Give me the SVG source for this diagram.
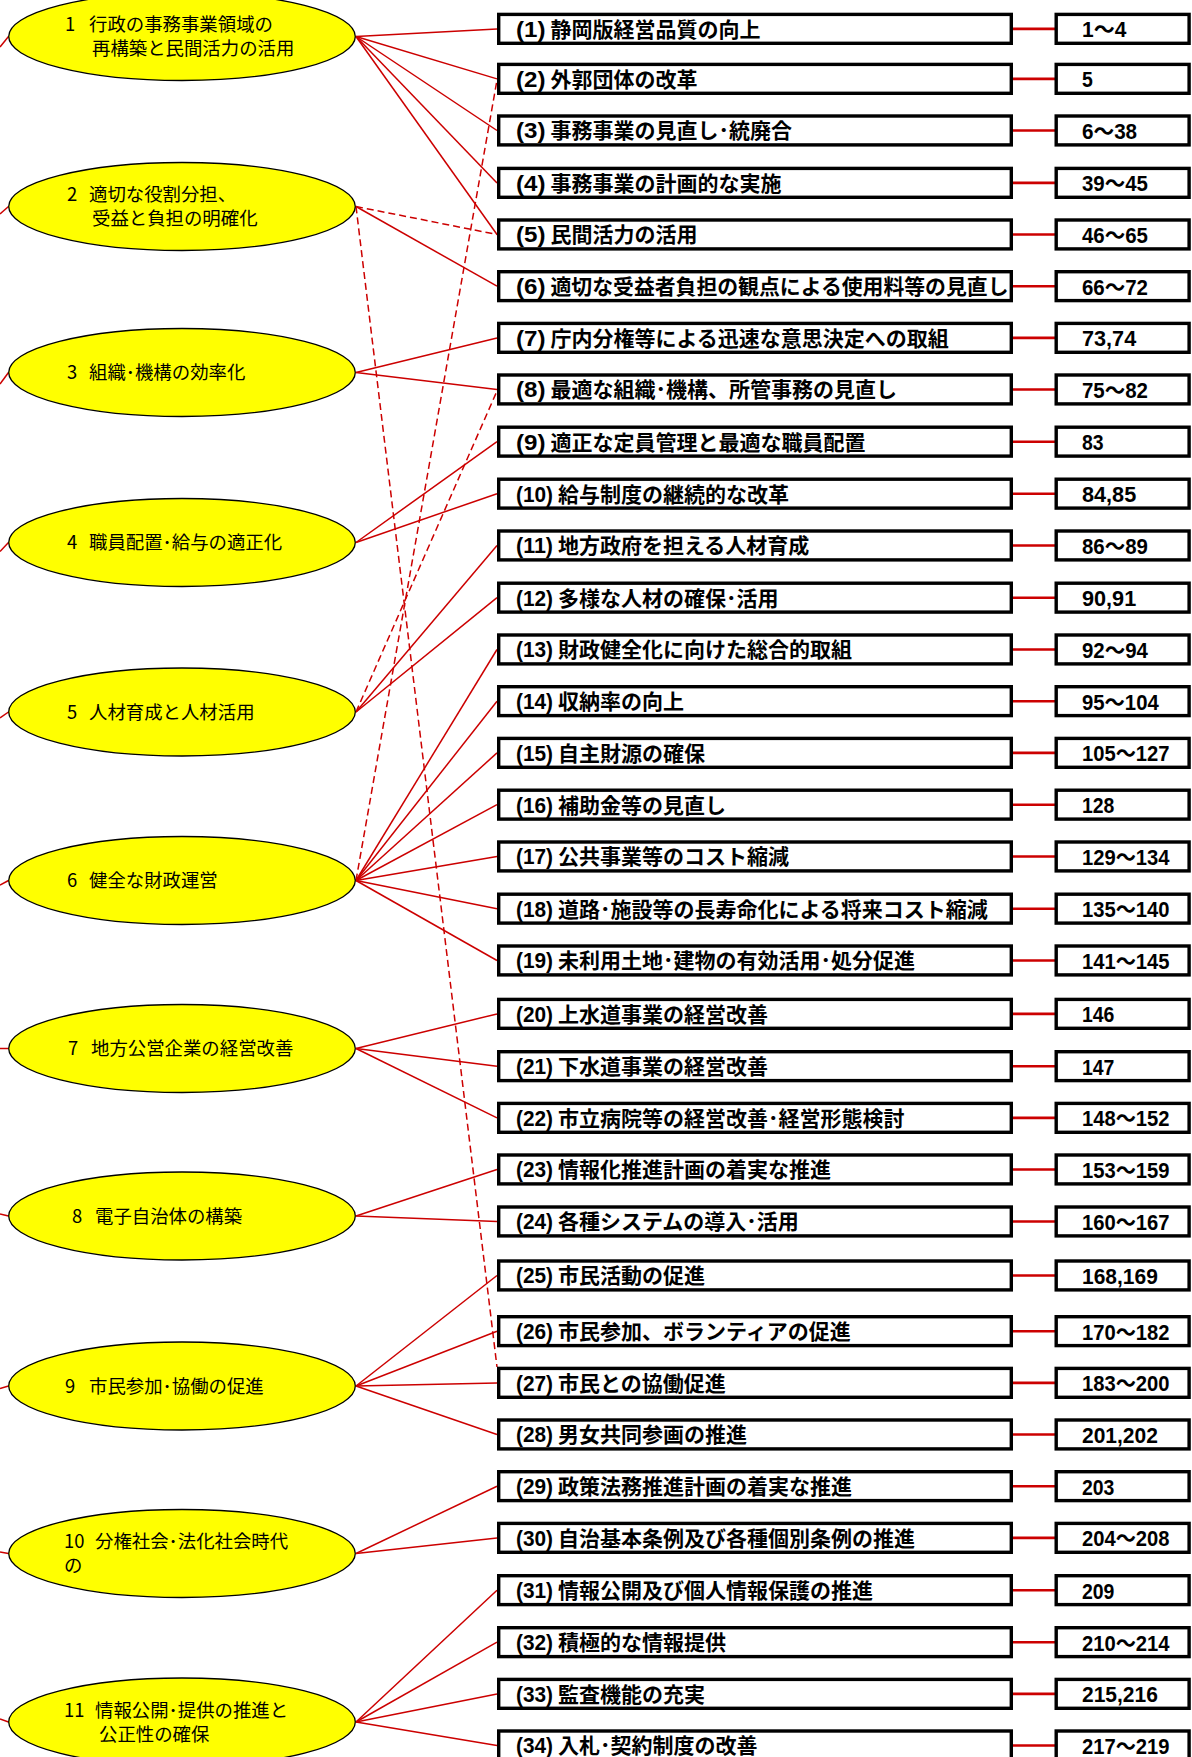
<svg xmlns="http://www.w3.org/2000/svg" width="1192" height="1757" viewBox="0 0 1192 1757">
<style>
.bg{fill:#fff}
.ell{fill:#ffff00;stroke:#000;stroke-width:1.3}
.et{font-family:"Noto Sans CJK JP","Noto Sans",sans-serif;font-size:18.4px;fill:#000}
.box{fill:#fff;stroke:#000;stroke-width:3.4}
.bt{font-family:"Noto Sans CJK JP","Noto Sans",sans-serif;font-size:21px;font-weight:bold;fill:#000}
.pf{font-family:"Liberation Sans","Noto Sans CJK JP",sans-serif;font-size:21.5px;font-weight:bold;fill:#000}
.nt{font-family:"Liberation Sans","Noto Sans CJK JP",sans-serif;font-size:21.5px;font-weight:bold;fill:#000}
.c{stroke:#cc0000;stroke-width:1.5;fill:none}
.d{stroke:#cc0000;stroke-width:1.5;fill:none;stroke-dasharray:7 4}
.h{stroke:#cc0000;stroke-width:2.6;fill:none}
</style>
<rect class="bg" x="0" y="0" width="1192" height="1757"/>
<g id="connectors">
<line class="c" x1="0" y1="47" x2="8.5" y2="36.5"/>
<line class="c" x1="0" y1="214" x2="8.5" y2="206.5"/>
<line class="c" x1="0" y1="384" x2="8.5" y2="372.5"/>
<line class="c" x1="0" y1="551.5" x2="8.5" y2="542.5"/>
<line class="c" x1="0" y1="718" x2="8.5" y2="712"/>
<line class="c" x1="0" y1="885" x2="8.5" y2="880.5"/>
<line class="c" x1="0" y1="1048.5" x2="8.5" y2="1048.5"/>
<line class="c" x1="0" y1="1214" x2="8.5" y2="1216"/>
<line class="c" x1="0" y1="1388.5" x2="8.5" y2="1386"/>
<line class="c" x1="0" y1="1552" x2="8.5" y2="1553.5"/>
<line class="c" x1="0" y1="1719" x2="8.5" y2="1722"/>
<line class="c" x1="356" y1="36.5" x2="497" y2="28.9"/>
<line class="c" x1="356" y1="36.5" x2="497" y2="78.9"/>
<line class="c" x1="356" y1="36.5" x2="497" y2="130.5"/>
<line class="c" x1="356" y1="36.5" x2="497" y2="182.9"/>
<line class="c" x1="356" y1="36.5" x2="497" y2="234.5"/>
<line class="c" x1="356" y1="206.5" x2="497" y2="286.2"/>
<line class="d" x1="356" y1="206.5" x2="497" y2="234.5"/>
<line class="d" x1="356" y1="206.5" x2="497" y2="1367"/>
<line class="c" x1="356" y1="372.5" x2="497" y2="337.9"/>
<line class="c" x1="356" y1="372.5" x2="497" y2="389.5"/>
<line class="c" x1="356" y1="542.5" x2="497" y2="441.7"/>
<line class="c" x1="356" y1="542.5" x2="497" y2="493.7"/>
<line class="c" x1="356" y1="712" x2="497" y2="545.5"/>
<line class="c" x1="356" y1="712" x2="497" y2="597.7"/>
<line class="d" x1="356" y1="712" x2="497" y2="391"/>
<line class="d" x1="356" y1="880.5" x2="497" y2="80"/>
<line class="c" x1="356" y1="880.5" x2="497" y2="649.5"/>
<line class="c" x1="356" y1="880.5" x2="497" y2="701.2"/>
<line class="c" x1="356" y1="880.5" x2="497" y2="752.9"/>
<line class="c" x1="356" y1="880.5" x2="497" y2="804.7"/>
<line class="c" x1="356" y1="880.5" x2="497" y2="856.5"/>
<line class="c" x1="356" y1="880.5" x2="497" y2="908.7"/>
<line class="c" x1="356" y1="880.5" x2="497" y2="960.5"/>
<line class="c" x1="356" y1="1048.5" x2="497" y2="1013.9"/>
<line class="c" x1="356" y1="1048.5" x2="497" y2="1066.2"/>
<line class="c" x1="356" y1="1048.5" x2="497" y2="1117.9"/>
<line class="c" x1="356" y1="1216" x2="497" y2="1169.5"/>
<line class="c" x1="356" y1="1216" x2="497" y2="1221.5"/>
<line class="c" x1="356" y1="1386" x2="497" y2="1275.5"/>
<line class="c" x1="356" y1="1386" x2="497" y2="1331.2"/>
<line class="c" x1="356" y1="1386" x2="497" y2="1382.9"/>
<line class="c" x1="356" y1="1386" x2="497" y2="1434.5"/>
<line class="c" x1="356" y1="1553.5" x2="497" y2="1486.2"/>
<line class="c" x1="356" y1="1553.5" x2="497" y2="1537.9"/>
<line class="c" x1="356" y1="1722" x2="497" y2="1590.2"/>
<line class="c" x1="356" y1="1722" x2="497" y2="1642.2"/>
<line class="c" x1="356" y1="1722" x2="497" y2="1693.9"/>
<line class="c" x1="356" y1="1722" x2="497" y2="1745.5"/>
<line class="h" x1="1013" y1="28.9" x2="1055" y2="28.9"/>
<line class="h" x1="1013" y1="78.9" x2="1055" y2="78.9"/>
<line class="h" x1="1013" y1="130.5" x2="1055" y2="130.5"/>
<line class="h" x1="1013" y1="182.9" x2="1055" y2="182.9"/>
<line class="h" x1="1013" y1="234.5" x2="1055" y2="234.5"/>
<line class="h" x1="1013" y1="286.2" x2="1055" y2="286.2"/>
<line class="h" x1="1013" y1="337.9" x2="1055" y2="337.9"/>
<line class="h" x1="1013" y1="389.5" x2="1055" y2="389.5"/>
<line class="h" x1="1013" y1="441.7" x2="1055" y2="441.7"/>
<line class="h" x1="1013" y1="493.7" x2="1055" y2="493.7"/>
<line class="h" x1="1013" y1="545.5" x2="1055" y2="545.5"/>
<line class="h" x1="1013" y1="597.7" x2="1055" y2="597.7"/>
<line class="h" x1="1013" y1="649.5" x2="1055" y2="649.5"/>
<line class="h" x1="1013" y1="701.2" x2="1055" y2="701.2"/>
<line class="h" x1="1013" y1="752.9" x2="1055" y2="752.9"/>
<line class="h" x1="1013" y1="804.7" x2="1055" y2="804.7"/>
<line class="h" x1="1013" y1="856.5" x2="1055" y2="856.5"/>
<line class="h" x1="1013" y1="908.7" x2="1055" y2="908.7"/>
<line class="h" x1="1013" y1="960.5" x2="1055" y2="960.5"/>
<line class="h" x1="1013" y1="1013.9" x2="1055" y2="1013.9"/>
<line class="h" x1="1013" y1="1066.2" x2="1055" y2="1066.2"/>
<line class="h" x1="1013" y1="1117.9" x2="1055" y2="1117.9"/>
<line class="h" x1="1013" y1="1169.5" x2="1055" y2="1169.5"/>
<line class="h" x1="1013" y1="1221.5" x2="1055" y2="1221.5"/>
<line class="h" x1="1013" y1="1275.5" x2="1055" y2="1275.5"/>
<line class="h" x1="1013" y1="1331.2" x2="1055" y2="1331.2"/>
<line class="h" x1="1013" y1="1382.9" x2="1055" y2="1382.9"/>
<line class="h" x1="1013" y1="1434.5" x2="1055" y2="1434.5"/>
<line class="h" x1="1013" y1="1486.2" x2="1055" y2="1486.2"/>
<line class="h" x1="1013" y1="1537.9" x2="1055" y2="1537.9"/>
<line class="h" x1="1013" y1="1590.2" x2="1055" y2="1590.2"/>
<line class="h" x1="1013" y1="1642.2" x2="1055" y2="1642.2"/>
<line class="h" x1="1013" y1="1693.9" x2="1055" y2="1693.9"/>
<line class="h" x1="1013" y1="1745.5" x2="1055" y2="1745.5"/>
</g>
<g id="goal-1"><ellipse class="ell" cx="182" cy="36.5" rx="173.3" ry="44"/><text class="et" y="31.1"><tspan x="65">1</tspan><tspan x="89">行政の事務事業領域の</tspan></text><text class="et" x="92" y="55.1">再構築と民間活力の活用</text></g>
<g id="goal-2"><ellipse class="ell" cx="182" cy="206.5" rx="173.3" ry="44"/><text class="et" y="201.1"><tspan x="67">2</tspan><tspan x="89">適切な役割分担、</tspan></text><text class="et" x="92" y="225.1">受益と負担の明確化</text></g>
<g id="goal-3"><ellipse class="ell" cx="182" cy="372.5" rx="173.3" ry="44"/><text class="et" y="379.1"><tspan x="67">3</tspan><tspan x="89">組織･機構の効率化</tspan></text></g>
<g id="goal-4"><ellipse class="ell" cx="182" cy="542.5" rx="173.3" ry="44"/><text class="et" y="549.1"><tspan x="67">4</tspan><tspan x="89">職員配置･給与の適正化</tspan></text></g>
<g id="goal-5"><ellipse class="ell" cx="182" cy="712" rx="173.3" ry="44"/><text class="et" y="718.6"><tspan x="67">5</tspan><tspan x="89">人材育成と人材活用</tspan></text></g>
<g id="goal-6"><ellipse class="ell" cx="182" cy="880.5" rx="173.3" ry="44"/><text class="et" y="887.1"><tspan x="67">6</tspan><tspan x="89">健全な財政運営</tspan></text></g>
<g id="goal-7"><ellipse class="ell" cx="182" cy="1048.5" rx="173.3" ry="44"/><text class="et" y="1055.1"><tspan x="68">7</tspan><tspan x="91">地方公営企業の経営改善</tspan></text></g>
<g id="goal-8"><ellipse class="ell" cx="182" cy="1216" rx="173.3" ry="44"/><text class="et" y="1222.6"><tspan x="72">8</tspan><tspan x="95">電子自治体の構築</tspan></text></g>
<g id="goal-9"><ellipse class="ell" cx="182" cy="1386" rx="173.3" ry="44"/><text class="et" y="1392.6"><tspan x="65">9</tspan><tspan x="89">市民参加･協働の促進</tspan></text></g>
<g id="goal-10"><ellipse class="ell" cx="182" cy="1553.5" rx="173.3" ry="44"/><text class="et" y="1548.1"><tspan x="64">10</tspan><tspan x="95">分権社会･法化社会時代</tspan></text><text class="et" x="64" y="1572.1">の</text></g>
<g id="goal-11"><ellipse class="ell" cx="182" cy="1722" rx="173.3" ry="44"/><text class="et" y="1716.6"><tspan x="64">11</tspan><tspan x="95">情報公開･提供の推進と</tspan></text><text class="et" x="99" y="1740.6">公正性の確保</text></g>
<g id="row-1" transform="translate(0,12.7)"><g id="item-1"><rect class="box" x="498.7" y="1.7" width="512.6" height="28.9"/><text class="pf" x="516" y="24" textLength="29.5" lengthAdjust="spacingAndGlyphs">(1)</text><text class="bt" x="550.5" y="24">静岡版経営品質の向上</text></g><g id="num-1"><rect class="box" x="1056.2" y="1.7" width="132.9" height="28.9"/><text class="nt" x="1082" y="24.5" textLength="44.3" lengthAdjust="spacingAndGlyphs">1～4</text></g></g>
<g id="row-2" transform="translate(0,62.7)"><g id="item-2"><rect class="box" x="498.7" y="1.7" width="512.6" height="28.9"/><text class="pf" x="516" y="24" textLength="29.5" lengthAdjust="spacingAndGlyphs">(2)</text><text class="bt" x="550.5" y="24">外郭団体の改革</text></g><g id="num-2"><rect class="box" x="1056.2" y="1.7" width="132.9" height="28.9"/><text class="nt" x="1082" y="24.5" textLength="10.8" lengthAdjust="spacingAndGlyphs">5</text></g></g>
<g id="row-3" transform="translate(0,114.3)"><g id="item-3"><rect class="box" x="498.7" y="1.7" width="512.6" height="28.9"/><text class="pf" x="516" y="24" textLength="29.5" lengthAdjust="spacingAndGlyphs">(3)</text><text class="bt" x="550.5" y="24">事務事業の見直し･統廃合</text></g><g id="num-3"><rect class="box" x="1056.2" y="1.7" width="132.9" height="28.9"/><text class="nt" x="1082" y="24.5" textLength="55.1" lengthAdjust="spacingAndGlyphs">6～38</text></g></g>
<g id="row-4" transform="translate(0,166.7)"><g id="item-4"><rect class="box" x="498.7" y="1.7" width="512.6" height="28.9"/><text class="pf" x="516" y="24" textLength="29.5" lengthAdjust="spacingAndGlyphs">(4)</text><text class="bt" x="550.5" y="24">事務事業の計画的な実施</text></g><g id="num-4"><rect class="box" x="1056.2" y="1.7" width="132.9" height="28.9"/><text class="nt" x="1082" y="24.5" textLength="65.9" lengthAdjust="spacingAndGlyphs">39～45</text></g></g>
<g id="row-5" transform="translate(0,218.3)"><g id="item-5"><rect class="box" x="498.7" y="1.7" width="512.6" height="28.9"/><text class="pf" x="516" y="24" textLength="29.5" lengthAdjust="spacingAndGlyphs">(5)</text><text class="bt" x="550.5" y="24">民間活力の活用</text></g><g id="num-5"><rect class="box" x="1056.2" y="1.7" width="132.9" height="28.9"/><text class="nt" x="1082" y="24.5" textLength="65.9" lengthAdjust="spacingAndGlyphs">46～65</text></g></g>
<g id="row-6" transform="translate(0,270)"><g id="item-6"><rect class="box" x="498.7" y="1.7" width="512.6" height="28.9"/><text class="pf" x="516" y="24" textLength="29.5" lengthAdjust="spacingAndGlyphs">(6)</text><text class="bt" x="550.5" y="24" textLength="458" lengthAdjust="spacingAndGlyphs">適切な受益者負担の観点による使用料等の見直し</text></g><g id="num-6"><rect class="box" x="1056.2" y="1.7" width="132.9" height="28.9"/><text class="nt" x="1082" y="24.5" textLength="65.9" lengthAdjust="spacingAndGlyphs">66～72</text></g></g>
<g id="row-7" transform="translate(0,321.7)"><g id="item-7"><rect class="box" x="498.7" y="1.7" width="512.6" height="28.9"/><text class="pf" x="516" y="24" textLength="29.5" lengthAdjust="spacingAndGlyphs">(7)</text><text class="bt" x="550.5" y="24">庁内分権等による迅速な意思決定への取組</text></g><g id="num-7"><rect class="box" x="1056.2" y="1.7" width="132.9" height="28.9"/><text class="nt" x="1082" y="24.5" textLength="54.2" lengthAdjust="spacingAndGlyphs">73,74</text></g></g>
<g id="row-8" transform="translate(0,373.3)"><g id="item-8"><rect class="box" x="498.7" y="1.7" width="512.6" height="28.9"/><text class="pf" x="516" y="24" textLength="29.5" lengthAdjust="spacingAndGlyphs">(8)</text><text class="bt" x="550.5" y="24">最適な組織･機構、所管事務の見直し</text></g><g id="num-8"><rect class="box" x="1056.2" y="1.7" width="132.9" height="28.9"/><text class="nt" x="1082" y="24.5" textLength="65.9" lengthAdjust="spacingAndGlyphs">75～82</text></g></g>
<g id="row-9" transform="translate(0,425.5)"><g id="item-9"><rect class="box" x="498.7" y="1.7" width="512.6" height="28.9"/><text class="pf" x="516" y="24" textLength="29.5" lengthAdjust="spacingAndGlyphs">(9)</text><text class="bt" x="550.5" y="24">適正な定員管理と最適な職員配置</text></g><g id="num-9"><rect class="box" x="1056.2" y="1.7" width="132.9" height="28.9"/><text class="nt" x="1082" y="24.5" textLength="21.6" lengthAdjust="spacingAndGlyphs">83</text></g></g>
<g id="row-10" transform="translate(0,477.5)"><g id="item-10"><rect class="box" x="498.7" y="1.7" width="512.6" height="28.9"/><text class="pf" x="516" y="24" textLength="37" lengthAdjust="spacingAndGlyphs">(10)</text><text class="bt" x="558" y="24">給与制度の継続的な改革</text></g><g id="num-10"><rect class="box" x="1056.2" y="1.7" width="132.9" height="28.9"/><text class="nt" x="1082" y="24.5" textLength="54.2" lengthAdjust="spacingAndGlyphs">84,85</text></g></g>
<g id="row-11" transform="translate(0,529.3)"><g id="item-11"><rect class="box" x="498.7" y="1.7" width="512.6" height="28.9"/><text class="pf" x="516" y="24" textLength="37" lengthAdjust="spacingAndGlyphs">(11)</text><text class="bt" x="558" y="24">地方政府を担える人材育成</text></g><g id="num-11"><rect class="box" x="1056.2" y="1.7" width="132.9" height="28.9"/><text class="nt" x="1082" y="24.5" textLength="65.9" lengthAdjust="spacingAndGlyphs">86～89</text></g></g>
<g id="row-12" transform="translate(0,581.5)"><g id="item-12"><rect class="box" x="498.7" y="1.7" width="512.6" height="28.9"/><text class="pf" x="516" y="24" textLength="37" lengthAdjust="spacingAndGlyphs">(12)</text><text class="bt" x="558" y="24">多様な人材の確保･活用</text></g><g id="num-12"><rect class="box" x="1056.2" y="1.7" width="132.9" height="28.9"/><text class="nt" x="1082" y="24.5" textLength="54.2" lengthAdjust="spacingAndGlyphs">90,91</text></g></g>
<g id="row-13" transform="translate(0,633.3)"><g id="item-13"><rect class="box" x="498.7" y="1.7" width="512.6" height="28.9"/><text class="pf" x="516" y="24" textLength="37" lengthAdjust="spacingAndGlyphs">(13)</text><text class="bt" x="558" y="24">財政健全化に向けた総合的取組</text></g><g id="num-13"><rect class="box" x="1056.2" y="1.7" width="132.9" height="28.9"/><text class="nt" x="1082" y="24.5" textLength="65.9" lengthAdjust="spacingAndGlyphs">92～94</text></g></g>
<g id="row-14" transform="translate(0,685)"><g id="item-14"><rect class="box" x="498.7" y="1.7" width="512.6" height="28.9"/><text class="pf" x="516" y="24" textLength="37" lengthAdjust="spacingAndGlyphs">(14)</text><text class="bt" x="558" y="24">収納率の向上</text></g><g id="num-14"><rect class="box" x="1056.2" y="1.7" width="132.9" height="28.9"/><text class="nt" x="1082" y="24.5" textLength="76.7" lengthAdjust="spacingAndGlyphs">95～104</text></g></g>
<g id="row-15" transform="translate(0,736.7)"><g id="item-15"><rect class="box" x="498.7" y="1.7" width="512.6" height="28.9"/><text class="pf" x="516" y="24" textLength="37" lengthAdjust="spacingAndGlyphs">(15)</text><text class="bt" x="558" y="24">自主財源の確保</text></g><g id="num-15"><rect class="box" x="1056.2" y="1.7" width="132.9" height="28.9"/><text class="nt" x="1082" y="24.5" textLength="87.5" lengthAdjust="spacingAndGlyphs">105～127</text></g></g>
<g id="row-16" transform="translate(0,788.5)"><g id="item-16"><rect class="box" x="498.7" y="1.7" width="512.6" height="28.9"/><text class="pf" x="516" y="24" textLength="37" lengthAdjust="spacingAndGlyphs">(16)</text><text class="bt" x="558" y="24">補助金等の見直し</text></g><g id="num-16"><rect class="box" x="1056.2" y="1.7" width="132.9" height="28.9"/><text class="nt" x="1082" y="24.5" textLength="32.4" lengthAdjust="spacingAndGlyphs">128</text></g></g>
<g id="row-17" transform="translate(0,840.3)"><g id="item-17"><rect class="box" x="498.7" y="1.7" width="512.6" height="28.9"/><text class="pf" x="516" y="24" textLength="37" lengthAdjust="spacingAndGlyphs">(17)</text><text class="bt" x="558" y="24">公共事業等のコスト縮減</text></g><g id="num-17"><rect class="box" x="1056.2" y="1.7" width="132.9" height="28.9"/><text class="nt" x="1082" y="24.5" textLength="87.5" lengthAdjust="spacingAndGlyphs">129～134</text></g></g>
<g id="row-18" transform="translate(0,892.5)"><g id="item-18"><rect class="box" x="498.7" y="1.7" width="512.6" height="28.9"/><text class="pf" x="516" y="24" textLength="37" lengthAdjust="spacingAndGlyphs">(18)</text><text class="bt" x="558" y="24">道路･施設等の長寿命化による将来コスト縮減</text></g><g id="num-18"><rect class="box" x="1056.2" y="1.7" width="132.9" height="28.9"/><text class="nt" x="1082" y="24.5" textLength="87.5" lengthAdjust="spacingAndGlyphs">135～140</text></g></g>
<g id="row-19" transform="translate(0,944.3)"><g id="item-19"><rect class="box" x="498.7" y="1.7" width="512.6" height="28.9"/><text class="pf" x="516" y="24" textLength="37" lengthAdjust="spacingAndGlyphs">(19)</text><text class="bt" x="558" y="24">未利用土地･建物の有効活用･処分促進</text></g><g id="num-19"><rect class="box" x="1056.2" y="1.7" width="132.9" height="28.9"/><text class="nt" x="1082" y="24.5" textLength="87.5" lengthAdjust="spacingAndGlyphs">141～145</text></g></g>
<g id="row-20" transform="translate(0,997.7)"><g id="item-20"><rect class="box" x="498.7" y="1.7" width="512.6" height="28.9"/><text class="pf" x="516" y="24" textLength="37" lengthAdjust="spacingAndGlyphs">(20)</text><text class="bt" x="558" y="24">上水道事業の経営改善</text></g><g id="num-20"><rect class="box" x="1056.2" y="1.7" width="132.9" height="28.9"/><text class="nt" x="1082" y="24.5" textLength="32.4" lengthAdjust="spacingAndGlyphs">146</text></g></g>
<g id="row-21" transform="translate(0,1050)"><g id="item-21"><rect class="box" x="498.7" y="1.7" width="512.6" height="28.9"/><text class="pf" x="516" y="24" textLength="37" lengthAdjust="spacingAndGlyphs">(21)</text><text class="bt" x="558" y="24">下水道事業の経営改善</text></g><g id="num-21"><rect class="box" x="1056.2" y="1.7" width="132.9" height="28.9"/><text class="nt" x="1082" y="24.5" textLength="32.4" lengthAdjust="spacingAndGlyphs">147</text></g></g>
<g id="row-22" transform="translate(0,1101.7)"><g id="item-22"><rect class="box" x="498.7" y="1.7" width="512.6" height="28.9"/><text class="pf" x="516" y="24" textLength="37" lengthAdjust="spacingAndGlyphs">(22)</text><text class="bt" x="558" y="24">市立病院等の経営改善･経営形態検討</text></g><g id="num-22"><rect class="box" x="1056.2" y="1.7" width="132.9" height="28.9"/><text class="nt" x="1082" y="24.5" textLength="87.5" lengthAdjust="spacingAndGlyphs">148～152</text></g></g>
<g id="row-23" transform="translate(0,1153.3)"><g id="item-23"><rect class="box" x="498.7" y="1.7" width="512.6" height="28.9"/><text class="pf" x="516" y="24" textLength="37" lengthAdjust="spacingAndGlyphs">(23)</text><text class="bt" x="558" y="24">情報化推進計画の着実な推進</text></g><g id="num-23"><rect class="box" x="1056.2" y="1.7" width="132.9" height="28.9"/><text class="nt" x="1082" y="24.5" textLength="87.5" lengthAdjust="spacingAndGlyphs">153～159</text></g></g>
<g id="row-24" transform="translate(0,1205.3)"><g id="item-24"><rect class="box" x="498.7" y="1.7" width="512.6" height="28.9"/><text class="pf" x="516" y="24" textLength="37" lengthAdjust="spacingAndGlyphs">(24)</text><text class="bt" x="558" y="24">各種システムの導入･活用</text></g><g id="num-24"><rect class="box" x="1056.2" y="1.7" width="132.9" height="28.9"/><text class="nt" x="1082" y="24.5" textLength="87.5" lengthAdjust="spacingAndGlyphs">160～167</text></g></g>
<g id="row-25" transform="translate(0,1259.3)"><g id="item-25"><rect class="box" x="498.7" y="1.7" width="512.6" height="28.9"/><text class="pf" x="516" y="24" textLength="37" lengthAdjust="spacingAndGlyphs">(25)</text><text class="bt" x="558" y="24">市民活動の促進</text></g><g id="num-25"><rect class="box" x="1056.2" y="1.7" width="132.9" height="28.9"/><text class="nt" x="1082" y="24.5" textLength="75.8" lengthAdjust="spacingAndGlyphs">168,169</text></g></g>
<g id="row-26" transform="translate(0,1315)"><g id="item-26"><rect class="box" x="498.7" y="1.7" width="512.6" height="28.9"/><text class="pf" x="516" y="24" textLength="37" lengthAdjust="spacingAndGlyphs">(26)</text><text class="bt" x="558" y="24">市民参加、ボランティアの促進</text></g><g id="num-26"><rect class="box" x="1056.2" y="1.7" width="132.9" height="28.9"/><text class="nt" x="1082" y="24.5" textLength="87.5" lengthAdjust="spacingAndGlyphs">170～182</text></g></g>
<g id="row-27" transform="translate(0,1366.7)"><g id="item-27"><rect class="box" x="498.7" y="1.7" width="512.6" height="28.9"/><text class="pf" x="516" y="24" textLength="37" lengthAdjust="spacingAndGlyphs">(27)</text><text class="bt" x="558" y="24">市民との協働促進</text></g><g id="num-27"><rect class="box" x="1056.2" y="1.7" width="132.9" height="28.9"/><text class="nt" x="1082" y="24.5" textLength="87.5" lengthAdjust="spacingAndGlyphs">183～200</text></g></g>
<g id="row-28" transform="translate(0,1418.3)"><g id="item-28"><rect class="box" x="498.7" y="1.7" width="512.6" height="28.9"/><text class="pf" x="516" y="24" textLength="37" lengthAdjust="spacingAndGlyphs">(28)</text><text class="bt" x="558" y="24">男女共同参画の推進</text></g><g id="num-28"><rect class="box" x="1056.2" y="1.7" width="132.9" height="28.9"/><text class="nt" x="1082" y="24.5" textLength="75.8" lengthAdjust="spacingAndGlyphs">201,202</text></g></g>
<g id="row-29" transform="translate(0,1470)"><g id="item-29"><rect class="box" x="498.7" y="1.7" width="512.6" height="28.9"/><text class="pf" x="516" y="24" textLength="37" lengthAdjust="spacingAndGlyphs">(29)</text><text class="bt" x="558" y="24">政策法務推進計画の着実な推進</text></g><g id="num-29"><rect class="box" x="1056.2" y="1.7" width="132.9" height="28.9"/><text class="nt" x="1082" y="24.5" textLength="32.4" lengthAdjust="spacingAndGlyphs">203</text></g></g>
<g id="row-30" transform="translate(0,1521.7)"><g id="item-30"><rect class="box" x="498.7" y="1.7" width="512.6" height="28.9"/><text class="pf" x="516" y="24" textLength="37" lengthAdjust="spacingAndGlyphs">(30)</text><text class="bt" x="558" y="24">自治基本条例及び各種個別条例の推進</text></g><g id="num-30"><rect class="box" x="1056.2" y="1.7" width="132.9" height="28.9"/><text class="nt" x="1082" y="24.5" textLength="87.5" lengthAdjust="spacingAndGlyphs">204～208</text></g></g>
<g id="row-31" transform="translate(0,1574)"><g id="item-31"><rect class="box" x="498.7" y="1.7" width="512.6" height="28.9"/><text class="pf" x="516" y="24" textLength="37" lengthAdjust="spacingAndGlyphs">(31)</text><text class="bt" x="558" y="24">情報公開及び個人情報保護の推進</text></g><g id="num-31"><rect class="box" x="1056.2" y="1.7" width="132.9" height="28.9"/><text class="nt" x="1082" y="24.5" textLength="32.4" lengthAdjust="spacingAndGlyphs">209</text></g></g>
<g id="row-32" transform="translate(0,1626)"><g id="item-32"><rect class="box" x="498.7" y="1.7" width="512.6" height="28.9"/><text class="pf" x="516" y="24" textLength="37" lengthAdjust="spacingAndGlyphs">(32)</text><text class="bt" x="558" y="24">積極的な情報提供</text></g><g id="num-32"><rect class="box" x="1056.2" y="1.7" width="132.9" height="28.9"/><text class="nt" x="1082" y="24.5" textLength="87.5" lengthAdjust="spacingAndGlyphs">210～214</text></g></g>
<g id="row-33" transform="translate(0,1677.7)"><g id="item-33"><rect class="box" x="498.7" y="1.7" width="512.6" height="28.9"/><text class="pf" x="516" y="24" textLength="37" lengthAdjust="spacingAndGlyphs">(33)</text><text class="bt" x="558" y="24">監査機能の充実</text></g><g id="num-33"><rect class="box" x="1056.2" y="1.7" width="132.9" height="28.9"/><text class="nt" x="1082" y="24.5" textLength="75.8" lengthAdjust="spacingAndGlyphs">215,216</text></g></g>
<g id="row-34" transform="translate(0,1729.3)"><g id="item-34"><rect class="box" x="498.7" y="1.7" width="512.6" height="28.9"/><text class="pf" x="516" y="24" textLength="37" lengthAdjust="spacingAndGlyphs">(34)</text><text class="bt" x="558" y="24">入札･契約制度の改善</text></g><g id="num-34"><rect class="box" x="1056.2" y="1.7" width="132.9" height="28.9"/><text class="nt" x="1082" y="24.5" textLength="87.5" lengthAdjust="spacingAndGlyphs">217～219</text></g></g>
</svg>
